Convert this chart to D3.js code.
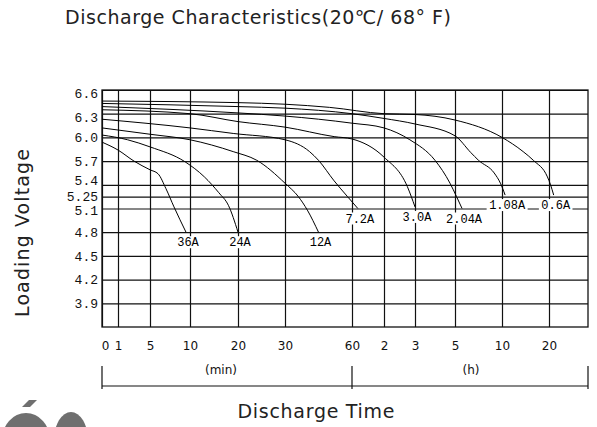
<!DOCTYPE html>
<html>
<head>
<meta charset="utf-8">
<script src="https://cdn.jsdelivr.net/npm/d3@7"></script>
<style>
  body { margin: 0; background: #fff; }
  svg { display: block; }
</style>
</head>
<body>
<svg id="chart"></svg>
<script>
// Tick values (time in minutes) and their printed labels
const timeTicks = [0, 1, 5, 10, 20, 30, 60, 120, 180, 300, 600, 1200];
const timeLabels = ["0", "1", "5", "10", "20", "30", "60", "2", "3", "5", "10", "20"];
const voltTicks = [6.6, 6.3, 6.0, 5.7, 5.4, 5.25, 5.1, 4.8, 4.5, 4.2, 3.9];
const voltLabels = ["6.6", "6.3", "6.0", "5.7", "5.4", "5.25", "5.1", "4.8", "4.5", "4.2", "3.9"];

// Discharge curves: [minutes, volts]
const curve36A = [[0, 5.94], [1, 5.84], [3, 5.7], [5, 5.59], [6, 5.54], [7, 5.35], [8, 5.12], [9.5, 4.8]];
const curve24A = [[0, 6.03], [2.2, 5.97], [5, 5.88], [9.4, 5.69], [13, 5.5], [16, 5.3], [18, 5.14], [20, 4.8]];
const curve12A = [[0, 6.12], [5, 6.04], [10, 5.97], [19, 5.82], [24, 5.71], [30, 5.42], [36, 5.25], [40, 5.08], [45, 4.8]];
const curve7A2 = [[0, 6.23], [10, 6.12], [19, 6.05], [30, 5.97], [41, 5.82], [45, 5.71], [52, 5.45], [58, 5.25], [71, 5.1]];
const curve3A0 = [[0, 6.35], [10, 6.3], [20, 6.2], [30, 6.13], [52, 6.01], [60, 5.98], [120, 5.75], [165, 5.38], [180, 5.12]];
const curve2A04 = [[0, 6.39], [20, 6.31], [30, 6.27], [60, 6.18], [120, 6.12], [170, 5.97], [240, 5.71], [285, 5.42], [310, 5.25], [345, 5.1]];
const curve1A08 = [[0, 6.43], [20, 6.39], [30, 6.37], [60, 6.3], [120, 6.24], [180, 6.17], [300, 6.02], [400, 5.81], [450, 5.71], [550, 5.55], [590, 5.42], [640, 5.27]];
const curve0A6 = [[0, 6.46], [20, 6.44], [30, 6.42], [50, 6.38], [120, 6.3], [180, 6.29], [300, 6.22], [600, 6.0], [870, 5.82], [1000, 5.71], [1180, 5.5], [1240, 5.4], [1320, 5.27]];

const curveNames = ["36A", "24A", "12A", "7.2A", "3.0A", "2.04A", "1.08A", "0.6A"];
const curves = [curve36A, curve24A, curve12A, curve7A2, curve3A0, curve2A04, curve1A08, curve0A6];

const W = 597, H = 427;
const margin = { top: 90, right: 9, bottom: 100, left: 102 };
const width = W - margin.left - margin.right;
const height = H - margin.top - margin.bottom;

const svg = d3.select("#chart").attr("width", W).attr("height", H);

// Hand-drawn, uneven time axis: piecewise linear scale
const x = d3.scaleLinear()
  .domain([0, 1, 5, 10, 20, 30, 60, 120, 180, 300, 600, 1200, 2200])
  .range([0, 16, 48, 88, 136, 183, 250, 282, 313, 353, 400, 447, 486].map((f) => f / 486 * width));

const y = d3.scaleLinear().domain([3.6, 6.6]).range([height, 0]);

const g = svg.append("g").attr("transform", `translate(${margin.left},${margin.top})`);

// Horizontal grid + y labels
const yShift = { 6.6: 3, 6.3: 4, 5.4: -4, 5.25: 0, 5.1: 2 };
const yAxis = g.append("g")
  .call(d3.axisLeft(y).tickValues(voltTicks).tickSize(-width).tickPadding(4)
    .tickFormat((d, i) => voltLabels[i]));
yAxis.select(".domain").remove();
yAxis.selectAll(".tick line").attr("stroke", "#111").attr("stroke-width", 1.2);
yAxis.selectAll(".tick text")
  .attr("font-family", "'Liberation Mono', monospace")
  .attr("font-size", 13)
  .attr("fill", "#111")
  .attr("y", (d) => yShift[d] || 0);

// Vertical grid + x labels
const xAxis = g.append("g")
  .attr("transform", `translate(0,${height})`)
  .call(d3.axisBottom(x).tickValues(timeTicks).tickSize(-height).tickPadding(14)
    .tickFormat((d, i) => timeLabels[i]));
xAxis.select(".domain").remove();
xAxis.selectAll(".tick line").attr("stroke", "#111").attr("stroke-width", 1.2);
xAxis.selectAll(".tick text")
  .attr("font-family", "'DejaVu Sans', sans-serif")
  .attr("font-size", 12)
  .attr("fill", "#111")
  .attr("dx", (d) => (d === 0 ? 3 : 0));

// Frame
g.append("rect")
  .attr("width", width).attr("height", height)
  .attr("fill", "none").attr("stroke", "#111").attr("stroke-width", 1.3);

// Curves
const line = d3.line()
  .x((d) => x(d[0]))
  .y((d) => y(d[1]))
  .curve(d3.curveMonotoneX);

g.append("g")
  .selectAll("path")
  .data(curves)
  .join("path")
  .attr("d", line)
  .attr("fill", "none")
  .attr("stroke", "#000")
  .attr("stroke-width", 1);

// Curve labels on white patches below the curve ends
const labels = g.append("g")
  .selectAll("g")
  .data(curves)
  .join("g")
  .attr("transform", (d) => {
    const end = d[d.length - 1];
    return `translate(${x(end[0]) + 2},${y(end[1]) + 10})`;
  });

labels.append("rect")
  .attr("x", (d, i) => -curveNames[i].length * 3.7 - 2)
  .attr("y", -6)
  .attr("width", (d, i) => curveNames[i].length * 7.4 + 4)
  .attr("height", 12)
  .attr("fill", "#fff");

labels.append("text")
  .attr("text-anchor", "middle")
  .attr("dy", "0.35em")
  .attr("font-family", "'Liberation Mono', monospace")
  .attr("font-size", 12)
  .attr("fill", "#000")
  .text((d, i) => curveNames[i]);

// Bracket under the time axis: (min) | (h)
const bracketY = 296;
const br = g.append("g").attr("stroke", "#111").attr("stroke-width", 1.2);
br.append("line").attr("x1", x(0)).attr("x2", width).attr("y1", bracketY).attr("y2", bracketY);
[x(0), x(60), width].forEach((bx) => {
  br.append("line").attr("x1", bx).attr("x2", bx).attr("y1", bracketY - 20).attr("y2", bracketY + 3);
});

g.append("text")
  .attr("x", (x(0) + x(60)) / 2 - 6).attr("y", 284)
  .attr("text-anchor", "middle")
  .attr("font-family", "'DejaVu Sans', sans-serif").attr("font-size", 12)
  .attr("fill", "#111").text("(min)");
g.append("text")
  .attr("x", (x(60) + width) / 2 + 1).attr("y", 284)
  .attr("text-anchor", "middle")
  .attr("font-family", "'DejaVu Sans', sans-serif").attr("font-size", 12)
  .attr("fill", "#111").text("(h)");

// Titles
svg.append("text")
  .attr("x", 65).attr("y", 24)
  .attr("font-family", "'DejaVu Sans', sans-serif").attr("font-size", 19)
  .attr("textLength", 386).attr("lengthAdjust", "spacing")
  .attr("fill", "#222")
  .text("Discharge Characteristics(20℃/ 68° F)");

svg.append("text")
  .attr("transform", "translate(29,233) rotate(-90)")
  .attr("text-anchor", "middle")
  .attr("font-family", "'DejaVu Sans', sans-serif").attr("font-size", 19)
  .attr("textLength", 168).attr("lengthAdjust", "spacing")
  .attr("fill", "#222")
  .text("Loading Voltage");

svg.append("text")
  .attr("x", 316).attr("y", 418)
  .attr("text-anchor", "middle")
  .attr("font-family", "'DejaVu Sans', sans-serif").attr("font-size", 19)
  .attr("textLength", 157).attr("lengthAdjust", "spacing")
  .attr("fill", "#222")
  .text("Discharge Time");

// Cropped logo in the lower-left corner
const logo = svg.append("g").attr("fill", "#6f6f6f");
logo.append("ellipse").attr("cx", 26).attr("cy", 440).attr("rx", 24).attr("ry", 27);
logo.append("ellipse").attr("cx", 71).attr("cy", 440).attr("rx", 17).attr("ry", 28);
logo.append("path").attr("d", "M22,407 L29,400 L37,400 L30,407 Z");
</script>
</body>
</html>
